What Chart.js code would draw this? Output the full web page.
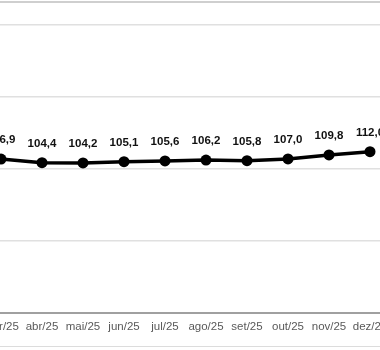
<!DOCTYPE html>
<html>
<head>
<meta charset="utf-8">
<script src="https://cdn.jsdelivr.net/npm/chart.js@4"></script>
<style>
  html, body { margin:0; padding:0; background:#fff; overflow:hidden; width:380px; height:350px; }
  #wrap { position:absolute; left:-40px; top:0; width:460px; height:350px; }
  #topline { position:absolute; left:0; top:1px; width:380px; height:2px; background:#cfcfcf; }
  #botline { position:absolute; left:0; top:346px; width:380px; height:1px; background:#dcdcdc; }
</style>
</head>
<body>
<div id="wrap"><canvas id="c" width="460" height="350"></canvas></div>
<div id="topline"></div>
<div id="botline"></div>
<script>
const categories = ["mar/25","abr/25","mai/25","jun/25","jul/25","ago/25","set/25","out/25","nov/25","dez/25"];
const values = [106.9,104.4,104.2,105.1,105.6,106.2,105.8,107.0,109.8,112.0];
const yTicks = [0,50,100,150,200];

const labelPlugin = {
  id: 'valueLabels',
  afterDatasetsDraw(chart) {
    const ctx = chart.ctx;
    const meta = chart.getDatasetMeta(0);
    ctx.save();
    ctx.font = 'bold 11.5px "Liberation Sans", Arial, sans-serif';
    ctx.fillStyle = '#111';
    ctx.textAlign = 'center';
    ctx.textBaseline = 'middle';
    meta.data.forEach((pt, i) => {
      const v = chart.data.datasets[0].data[i];
      ctx.fillText(v.toFixed(1).replace('.', ','), pt.x, pt.y - 19);
    });
    ctx.restore();
  }
};

new Chart(document.getElementById('c'), {
  type: 'line',
  data: {
    labels: categories,
    datasets: [{
      data: values,
      borderColor: '#000',
      borderWidth: 3.5,
      pointRadius: 5.5,
      pointBackgroundColor: '#000',
      pointBorderColor: '#000',
      pointBorderWidth: 0,
      tension: 0,
      fill: false
    }]
  },
  options: {
    responsive: false,
    animation: false,
    devicePixelRatio: 1,
    layout: { padding: { left: 20.5, right: 29.5, top: 25, bottom: 0 } },
    plugins: { legend: { display: false }, tooltip: { enabled: false } },
    scales: {
      x: {
        offset: true,
        grid: { display: false },
        border: { display: true, color: '#a0a0a0', width: 2 },
        ticks: {
          autoSkip: false, maxRotation: 0, padding: -1,
          color: '#595959',
          font: { family: '"Liberation Sans", Arial, sans-serif', size: 11.5 }
        },
        afterFit(axis) { axis.height = 37; }
      },
      y: {
        min: yTicks[0], max: yTicks[yTicks.length - 1],
        afterBuildTicks(axis) { axis.ticks = yTicks.map(v => ({ value: v })); },
        grid: { color: '#e0e0e0', lineWidth: 1.5, drawTicks: false },
        border: { display: false },
        ticks: { display: false },
        afterFit(axis) { axis.width = 0; }
      }
    }
  },
  plugins: [labelPlugin]
});
</script>
</body>
</html>
